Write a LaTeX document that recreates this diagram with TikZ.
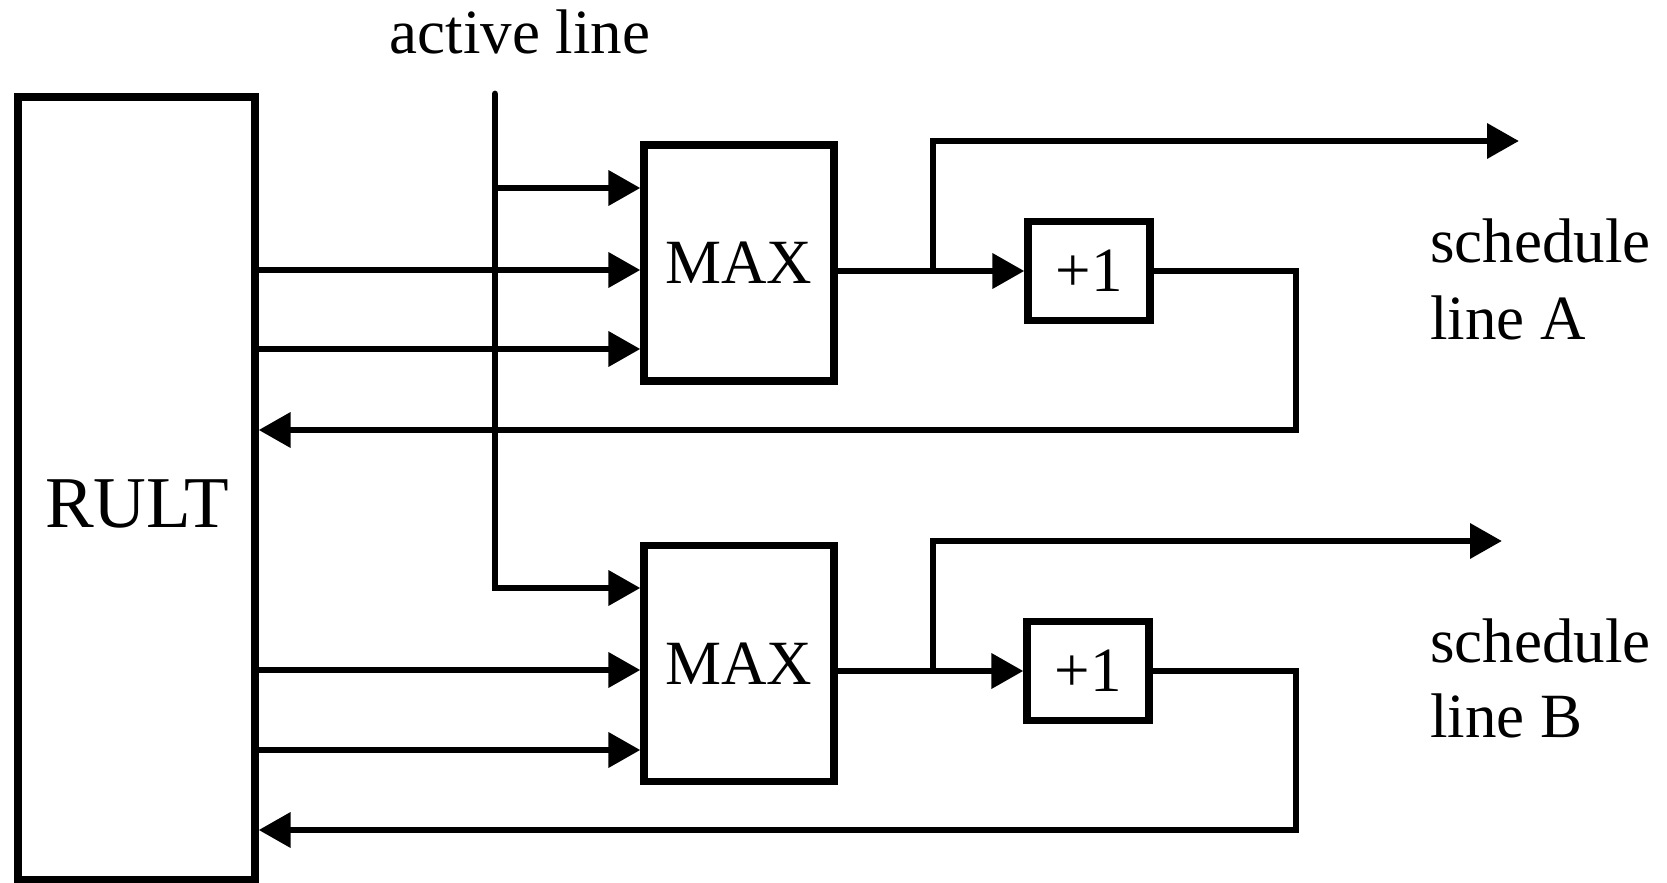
\documentclass[tikz,border=0pt]{standalone}
\usepackage{fontspec}
\setmainfont{Liberation Serif}
\usetikzlibrary{arrows.meta}
\begin{document}
\begin{tikzpicture}[x=0.5pt,y=-0.5pt,
  box/.style={draw,line width=3.6pt,inner sep=0pt,font=\fontsize{31.5}{38}\selectfont},
  wire/.style={line width=3.4pt},
  arr/.style={wire,-{Triangle[length=16pt,width=17pt]}},
  lbl/.style={inner sep=0pt,font=\fontsize{31.5}{38}\selectfont}]
\useasboundingbox (0,0) rectangle (1667,883);
% boxes
\node[box,minimum width=118.5pt,minimum height=391.5pt] (rult) at (136.5,488.5) {};
\node[lbl,font=\fontsize{36.5}{44}\selectfont,anchor=base] (rultlbl) at (137,527) {RULT};
\node[box,minimum width=95pt,minimum height=118pt] (maxA) at (739,263) {MAX};
\node[box,minimum width=95pt,minimum height=118pt] (maxB) at (739,663.5) {MAX};
\node[box,minimum width=61pt,minimum height=49.5pt] (plusA) at (1089,271) {+1};
\node[box,minimum width=61pt,minimum height=49.5pt] (plusB) at (1088,671) {+1};
% labels
\node[lbl,anchor=base] (act) at (520,54) {active line};
\node[lbl,anchor=base west] (schA1) at (1430,263) {schedule};
\node[lbl,anchor=base west] (schA2) at (1430,339) {line A};
\node[lbl,anchor=base west] (schB1) at (1430,662) {schedule};
\node[lbl,anchor=base west] (schB2) at (1430,737) {line B};
% coordinates
\coordinate (acttop) at (495,94);
\coordinate (actA) at (495,188);
\coordinate (actbot) at (495,588);
\coordinate (yA2) at (0,270);
\coordinate (yA3) at (0,349);
\coordinate (yB2) at (0,670);
\coordinate (yB3) at (0,750);
\coordinate (fbA) at (1296,430);
\coordinate (fbB) at (1296,830);
\coordinate (brA) at (933,271);
\coordinate (brB) at (933,671);
\coordinate (outA) at (1519,141);
\coordinate (outB) at (1502,541);
% active line
\draw[arr,line cap=round] (acttop) -- (actbot) -- (maxB.west |- actbot);
\draw[arr] (actA) -- (maxA.west |- actA);
% RULT to MAX
\draw[arr,line cap=round] (rult.east |- yA2) -- (maxA.west |- yA2);
\draw[arr,line cap=round] (rult.east |- yA3) -- (maxA.west |- yA3);
\draw[arr,line cap=round] (rult.east |- yB2) -- (maxB.west |- yB2);
\draw[arr,line cap=round] (rult.east |- yB3) -- (maxB.west |- yB3);
% MAX to +1
\draw[arr] (maxA.east |- plusA.west) -- (plusA.west);
\draw[arr] (maxB.east |- plusB.west) -- (plusB.west);
% outputs
\draw[arr] (brA) |- (outA);
\draw[arr] (brB) |- (outB);
% feedback
\draw[arr] (plusA.east) -| (fbA) -- (rult.east |- fbA);
\draw[arr] (plusB.east) -| (fbB) -- (rult.east |- fbB);
\end{tikzpicture}
\end{document}
